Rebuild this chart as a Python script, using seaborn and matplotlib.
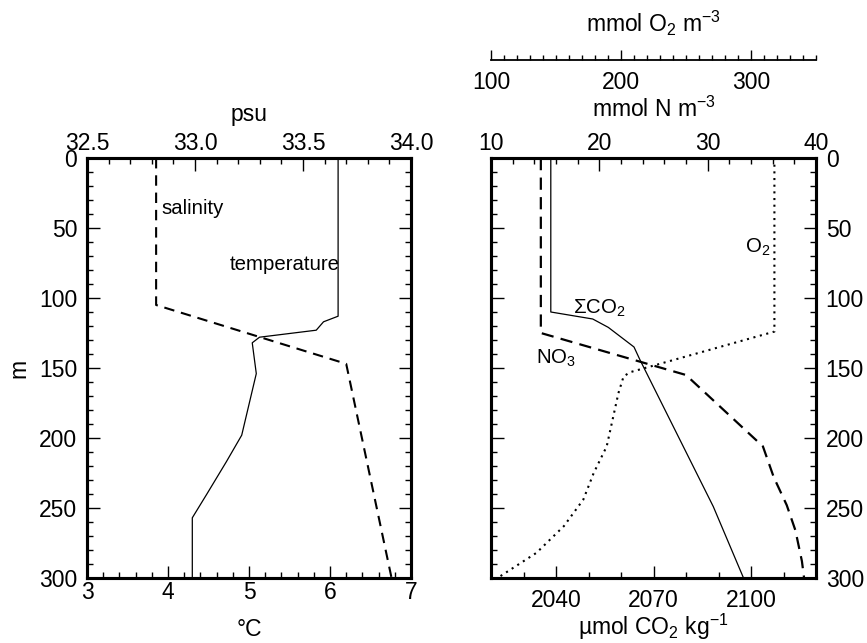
import numpy as np
import pandas as pd
import matplotlib
matplotlib.use("Agg")
import matplotlib.pyplot as plt
import seaborn as sns
from matplotlib.ticker import MultipleLocator, FixedLocator, FormatStrFormatter

# ---------------- data ----------------
# left panel
temp_depth = [0, 113, 117, 123, 128, 132, 154, 198, 217, 240, 257, 300]
temp_c = [6.10, 6.10, 5.92, 5.83, 5.13, 5.04, 5.09, 4.91, 4.72, 4.48, 4.30, 4.30]

sal_depth = [0, 105, 147, 300]
sal_psu = [32.82, 32.82, 33.70, 33.91]

# right panel
co2_depth = [0, 110, 115, 121, 135, 144, 249, 300]
co2_umol = [2038.4, 2038.4, 2051.3, 2056.1, 2064.0, 2065.8, 2088.4, 2097.7]

no3_depth = [0, 125, 155, 206, 228, 248, 266, 288, 300]
no3_mmol = [14.6, 14.6, 28.0, 35.1, 36.1, 37.3, 38.1, 38.7, 38.9]

o2_depth = [0, 124, 153, 156, 168, 206, 225, 244, 263, 282, 297, 300]
o2_mmol = [318, 318, 207, 202, 198, 189, 179, 171, 156, 135, 110, 105]

# axis ticks
celsius_ticks = [3, 4, 5, 6, 7]
psu_ticks = [32.5, 33.0, 33.5, 34.0]
depth_ticks = [0, 50, 100, 150, 200, 250, 300]
co2_ticks = [2040, 2070, 2100]
n_ticks = [10, 20, 30, 40]
o2_ticks = [100, 200, 300]

# ---------------- style ----------------
sns.set_theme(style="ticks")
plt.rcParams["font.family"] = ["Liberation Sans", "DejaVu Sans"]
plt.rcParams["mathtext.fontset"] = "custom"
plt.rcParams["mathtext.rm"] = "Liberation Sans"
plt.rcParams["mathtext.it"] = "Liberation Sans:italic"
plt.rcParams["mathtext.default"] = "regular"
plt.rcParams["text.color"] = "black"
plt.rcParams["axes.labelcolor"] = "black"
plt.rcParams["axes.edgecolor"] = "black"
plt.rcParams["xtick.color"] = "black"
plt.rcParams["ytick.color"] = "black"

W, H = 867, 643
fig = plt.figure(figsize=(W / 100, H / 100), dpi=100)
fig.patch.set_facecolor("white")


def rect(x0, y0, x1, y1):
    return [x0 / W, 1 - y1 / H, (x1 - x0) / W, (y1 - y0) / H]


SPW = 2.2
TFS = 16.5
AFS = 16.5
NFS = 14.7


def spines(ax, lw=SPW):
    for s in ax.spines.values():
        s.set_linewidth(lw)
        s.set_color("black")


def ticks(ax, axis, pad):
    ax.tick_params(axis=axis, which="both", direction="in", color="black",
                   labelsize=TFS, labelcolor="black", pad=pad, width=1.0)
    ax.tick_params(axis=axis, which="major", length=9)
    ax.tick_params(axis=axis, which="minor", length=4.5)


# ---------------- left panel ----------------
ax_l = fig.add_axes(rect(87, 158, 411, 578))
ax_l.set_facecolor("white")
ax_lt = ax_l.twiny()

sns.lineplot(data=pd.DataFrame({"depth": temp_depth, "val": temp_c}),
             x="val", y="depth", orient="y", sort=False, estimator=None,
             color="black", lw=0.9, ax=ax_l)
sns.lineplot(data=pd.DataFrame({"depth": sal_depth, "val": sal_psu}),
             x="val", y="depth", orient="y", sort=False, estimator=None,
             color="black", lw=1.5, linestyle=(0, (5, 3.3)), ax=ax_lt)

ax_l.set_xlim(3, 7)
ax_lt.set_xlim(32.5, 34.0)
ax_l.set_ylim(300, 0)

ax_l.xaxis.set_major_locator(FixedLocator(celsius_ticks))
ax_l.xaxis.set_minor_locator(MultipleLocator(0.2))
ax_l.yaxis.set_major_locator(FixedLocator(depth_ticks))
ax_l.yaxis.set_minor_locator(MultipleLocator(10))
ax_lt.xaxis.set_major_locator(FixedLocator(psu_ticks))
ax_lt.xaxis.set_minor_locator(MultipleLocator(0.1))
ax_lt.xaxis.set_major_formatter(FormatStrFormatter("%.1f"))

ticks(ax_l, "x", 2.5)
ticks(ax_l, "y", 7)
ax_l.tick_params(axis="y", which="both", left=True, right=True,
                 labelleft=True, labelright=False)
ax_l.tick_params(axis="x", which="both", bottom=True, top=False)
ticks(ax_lt, "x", 2.5)
ax_lt.tick_params(axis="x", which="both", top=True, bottom=False,
                  labeltop=True, labelbottom=False)

for a in (ax_l, ax_lt):
    a.set_xlabel("")
    a.set_ylabel("")
    spines(a)

ax_l.text(3.922, 40, "salinity", fontsize=NFS, ha="left", va="baseline", color="black")
ax_l.text(4.757, 80, "temperature", fontsize=NFS, ha="left", va="baseline", color="black")

# ---------------- right panel ----------------
ax_r = fig.add_axes(rect(491, 158, 816, 578))
ax_r.set_facecolor("white")
ax_rn = ax_r.twiny()
ax_ro = ax_r.twiny()

sns.lineplot(data=pd.DataFrame({"depth": co2_depth, "val": co2_umol}),
             x="val", y="depth", orient="y", sort=False, estimator=None,
             color="black", lw=0.9, ax=ax_r)
sns.lineplot(data=pd.DataFrame({"depth": no3_depth, "val": no3_mmol}),
             x="val", y="depth", orient="y", sort=False, estimator=None,
             color="black", lw=1.6, linestyle=(0, (5.5, 3.3)), ax=ax_rn)
sns.lineplot(data=pd.DataFrame({"depth": o2_depth, "val": o2_mmol}),
             x="val", y="depth", orient="y", sort=False, estimator=None,
             color="black", lw=1.5, linestyle=(0, (1, 2.2)), ax=ax_ro)

ax_r.set_xlim(2020, 2120)
ax_rn.set_xlim(10, 40)
ax_ro.set_xlim(100, 350)
ax_r.set_ylim(300, 0)

ax_r.xaxis.set_major_locator(FixedLocator(co2_ticks))
ax_r.xaxis.set_minor_locator(MultipleLocator(10))
ax_r.yaxis.set_major_locator(FixedLocator(depth_ticks))
ax_r.yaxis.set_minor_locator(MultipleLocator(10))
ax_rn.xaxis.set_major_locator(FixedLocator(n_ticks))
ax_rn.xaxis.set_minor_locator(MultipleLocator(2))

ticks(ax_r, "x", 8)
ticks(ax_r, "y", 7)
ax_r.tick_params(axis="y", which="both", left=True, right=True,
                 labelleft=False, labelright=True)
ax_r.tick_params(axis="x", which="both", bottom=True, top=False)
ticks(ax_rn, "x", 2.5)
ax_rn.tick_params(axis="x", which="both", top=True, bottom=False,
                  labeltop=True, labelbottom=False)
ax_ro.xaxis.set_visible(False)
for s in ax_ro.spines.values():
    s.set_visible(False)

for a in (ax_r, ax_rn, ax_ro):
    a.set_xlabel("")
    a.set_ylabel("")
for a in (ax_r, ax_rn):
    spines(a)

ax_r.text(2045.3, 111, "\u03a3CO$_2$", fontsize=NFS, ha="left", va="baseline", color="black")
ax_r.text(2033.8, 147, "NO$_3$", fontsize=NFS, ha="left", va="baseline", color="black")
ax_r.text(2098.2, 68, "O$_2$", fontsize=NFS, ha="left", va="baseline", color="black")

# ---------------- separate O2 scale ----------------
ax_o = fig.add_axes([491 / W, 1 - 60 / H, 325 / W, 1e-4])
ax_o.patch.set_visible(False)
ax_o.set_xlim(100, 350)
ax_o.xaxis.set_major_locator(FixedLocator(o2_ticks))
ax_o.xaxis.set_minor_locator(MultipleLocator(10))
ax_o.yaxis.set_visible(False)
for k in ("top", "left", "right"):
    ax_o.spines[k].set_visible(False)
ax_o.spines["bottom"].set_linewidth(1.3)
ax_o.spines["bottom"].set_color("black")
ax_o.tick_params(axis="x", which="both", direction="in", bottom=True, top=False,
                 labelsize=TFS, labelcolor="black", pad=8, width=1.0, color="black")
ax_o.tick_params(axis="x", which="major", length=7)
ax_o.tick_params(axis="x", which="minor", length=3.5)

# ---------------- axis titles ----------------
def ftext(x, y, s, **kw):
    fig.text(x / W, 1 - y / H, s, fontsize=AFS, color="black", **kw)

ftext(249, 121, "psu", ha="center", va="baseline")
ftext(249, 636, "\u00b0C", ha="center", va="baseline")
ftext(19, 368, "m", ha="center", va="center", rotation=90)
ftext(653.5, 117.3, "mmol N m$^{-3}$", ha="center", va="baseline")
ftext(653.5, 31.7, "mmol O$_2$ m$^{-3}$", ha="center", va="baseline")
ftext(653.5, 635, "\u00b5mol CO$_2$ kg$^{-1}$", ha="center", va="baseline")

fig.savefig("out.png", dpi=100, facecolor="white")
